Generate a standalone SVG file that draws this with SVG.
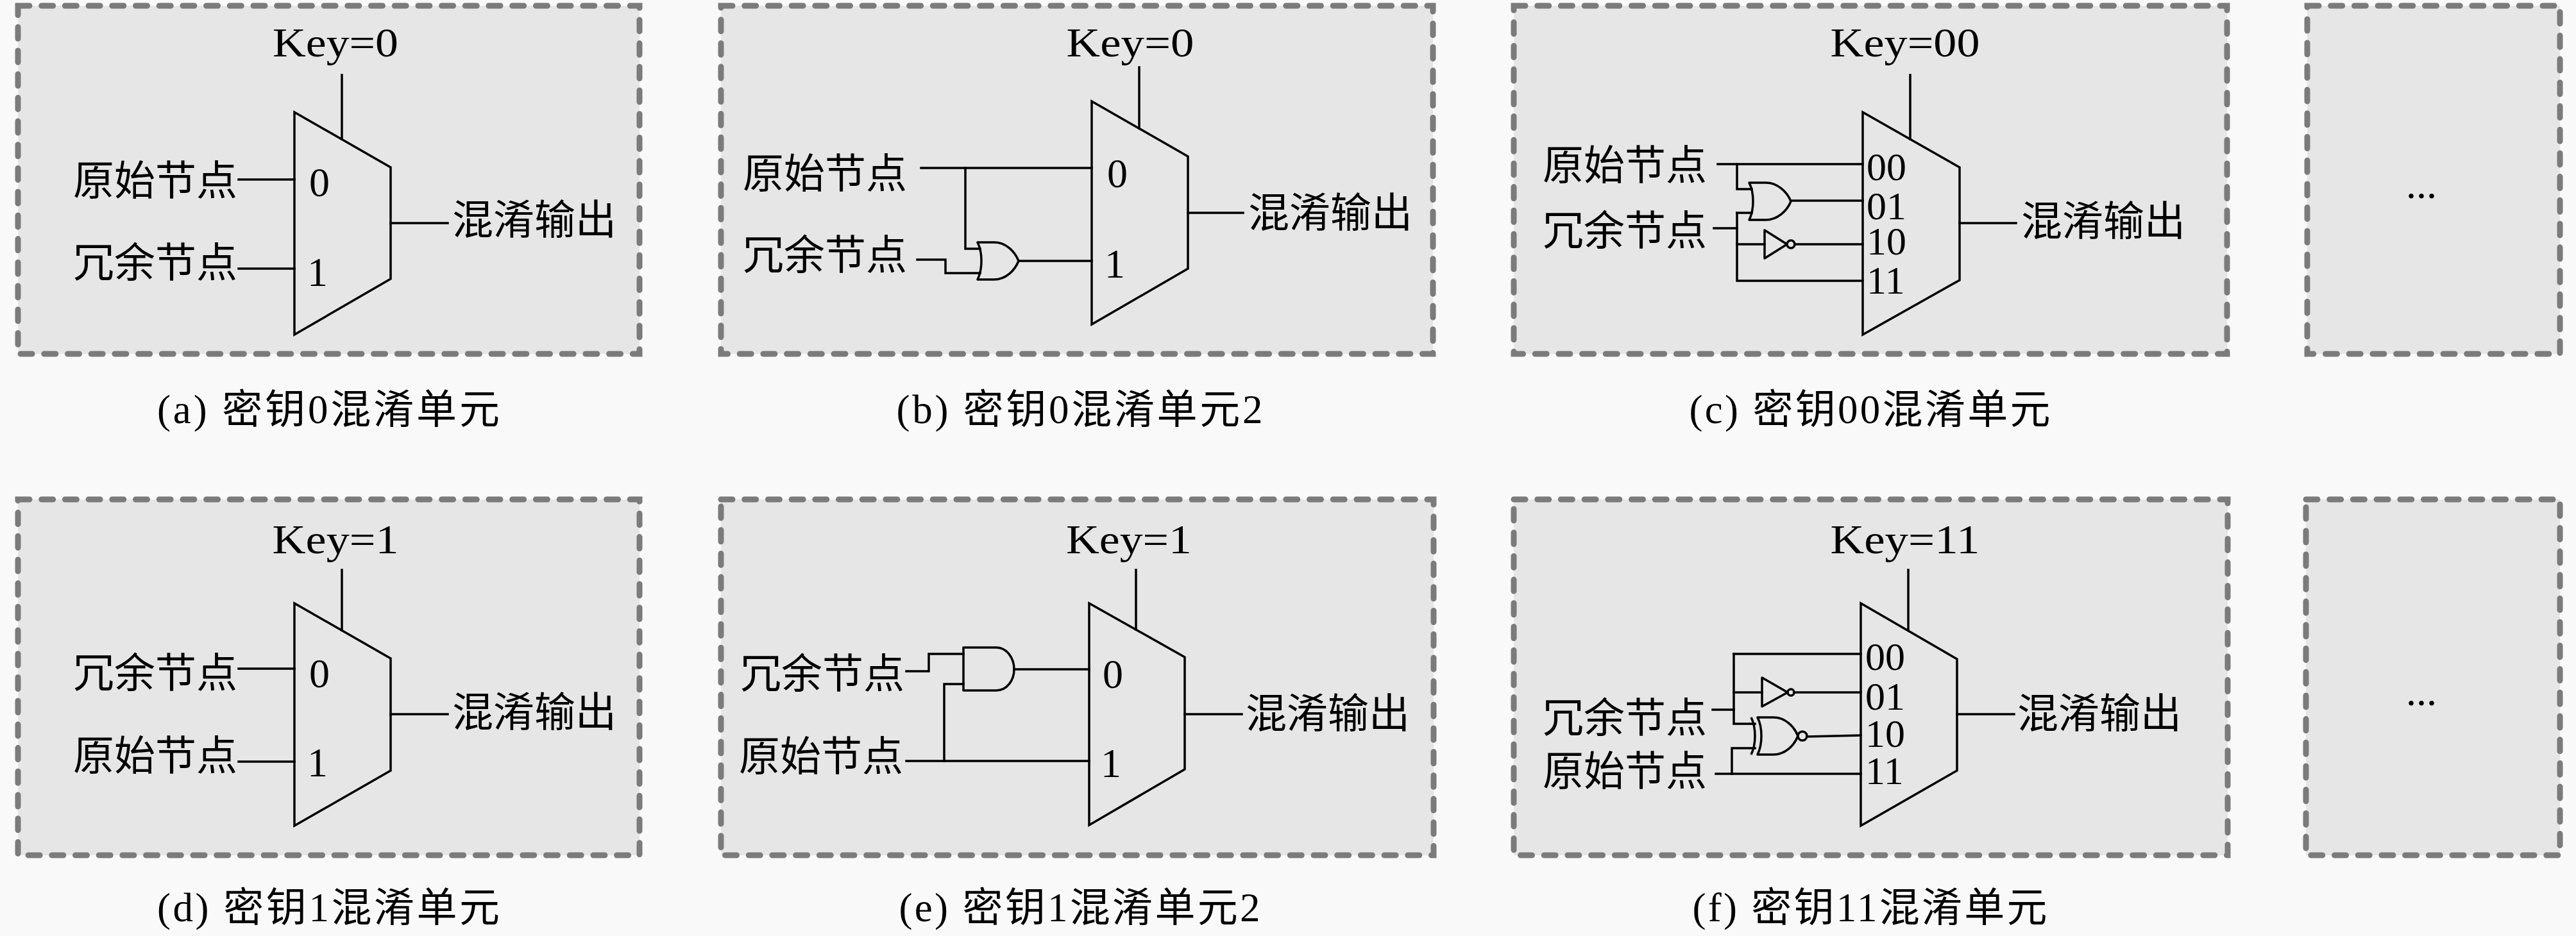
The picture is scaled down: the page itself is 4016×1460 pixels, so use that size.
<svg xmlns="http://www.w3.org/2000/svg" width="4016" height="1460" viewBox="0 0 4016 1460">
<style>
.bg{fill:#f9f9f9}
.box{fill:#e6e6e6;stroke:#7b7b7b;stroke-width:9;stroke-dasharray:18 18.7;stroke-linecap:round}
.mux{fill:none;stroke:#000;stroke-width:3.5;stroke-linejoin:miter}
.gate{fill:none;stroke:#000;stroke-width:3.5;stroke-linejoin:round}
.wire{fill:none;stroke:#000;stroke-width:3.5;stroke-linecap:square}
.lat{font-family:"Liberation Serif",serif;font-size:64px;fill:#000}
.sel{font-family:"Liberation Serif",serif;font-size:62px;fill:#000}
.cjk{font-family:"Noto Sans CJK SC","Noto Sans CJK JP",sans-serif;font-size:64px;fill:#000}
.cap{font-family:"Liberation Serif","Noto Sans CJK SC",serif;font-size:63px;fill:#000;text-anchor:middle}
.mid{text-anchor:middle}
.end{text-anchor:end}
</style>
<rect class="bg" x="0" y="0" width="4016" height="1460"/>

<g id="panel-a">
<rect class="box" x="28" y="9" width="969" height="543"/>
<text class="cap" x="512" y="660" textLength="534" lengthAdjust="spacing">(a) 密钥0混淆单元</text>
</g>
<g id="panel-b">
<rect class="box" x="1124" y="9" width="1110" height="543"/>
<text class="cap" x="1683" y="660" textLength="571" lengthAdjust="spacing">(b) 密钥0混淆单元2</text>
</g>
<g id="panel-c">
<rect class="box" x="2360" y="9" width="1112" height="543"/>
<text class="cap" x="2915" y="660" textLength="563" lengthAdjust="spacing">(c) 密钥00混淆单元</text>
</g>
<g id="panel-top-more">
<rect class="box" x="3597" y="9" width="394" height="543"/>
<text class="lat mid" x="3775" y="309">...</text>
</g>
<g id="panel-d">
<rect class="box" x="28" y="779" width="969" height="555"/>
<text class="cap" x="512" y="1437" textLength="534" lengthAdjust="spacing">(d) 密钥1混淆单元</text>
</g>
<g id="panel-e">
<rect class="box" x="1124" y="779" width="1111" height="555"/>
<text class="cap" x="1683" y="1437" textLength="563" lengthAdjust="spacing">(e) 密钥1混淆单元2</text>
</g>
<g id="panel-f">
<rect class="box" x="2360" y="779" width="1113" height="555"/>
<text class="cap" x="2915" y="1437" textLength="553" lengthAdjust="spacing">(f) 密钥11混淆单元</text>
</g>
<g id="panel-bottom-more">
<rect class="box" x="3595" y="779" width="396" height="555"/>
<text class="lat mid" x="3775" y="1100">...</text>
</g>

<!-- panel a -->
<g id="mux-a">
<polygon class="mux" points="459,175 609,261 609,435 459,522"/>
<text class="lat mid" x="498" y="306">0</text>
<text class="lat mid" x="495" y="446">1</text>
</g>
<g id="labels-a">
<text class="lat mid" x="523" y="88" textLength="196" lengthAdjust="spacingAndGlyphs">Key=0</text>
<text class="cjk end" x="370" y="304">原始节点</text>
<text class="cjk end" x="370" y="432">冗余节点</text>
<text class="cjk" x="705" y="365">混淆输出</text>
</g>

<!-- panel b -->
<g id="mux-b">
<polygon class="mux" points="1702,158 1852,244 1852,419 1702,506"/>
<text class="lat mid" x="1742" y="292">0</text>
<text class="lat mid" x="1738" y="433">1</text>
</g>
<g id="or-b">
<path class="gate" d="M1524,378 H1550 C1568,378 1582,392 1588,407 C1582,422 1568,436 1550,436 H1524 C1532,420 1532,394 1524,378 Z"/>
</g>
<g id="labels-b">
<text class="lat mid" x="1762" y="88" textLength="199" lengthAdjust="spacingAndGlyphs">Key=0</text>
<text class="cjk end" x="1414" y="293">原始节点</text>
<text class="cjk end" x="1414" y="420">冗余节点</text>
<text class="cjk" x="1946" y="354">混淆输出</text>
</g>

<!-- panel c -->
<g id="mux-c">
<polygon class="mux" points="2904,175 3055,261 3055,437 2904,522"/>
<text class="sel" x="2910" y="281">00</text>
<text class="sel" x="2910" y="342">01</text>
<text class="sel" x="2910" y="397">10</text>
<text class="sel" x="2910" y="458">11</text>
</g>
<g id="or-c">
<path class="gate" d="M2727,285 H2753 C2771,285 2786,299 2792,314 C2786,329 2771,343 2753,343 H2727 C2735,327 2735,301 2727,285 Z"/>
</g>
<g id="not-c">
<polygon class="gate" points="2751,359 2751,403 2786,381"/>
<circle class="gate" cx="2792" cy="381" r="6"/>
</g>
<g id="labels-c">
<text class="lat mid" x="2970" y="88" textLength="233" lengthAdjust="spacingAndGlyphs">Key=00</text>
<text class="cjk end" x="2661" y="280">原始节点</text>
<text class="cjk end" x="2661" y="382">冗余节点</text>
<text class="cjk" x="3151" y="367">混淆输出</text>
</g>

<!-- panel d -->
<g id="mux-d">
<polygon class="mux" points="459,941 609,1027 609,1202 459,1288"/>
<text class="lat mid" x="498" y="1072">0</text>
<text class="lat mid" x="495" y="1211">1</text>
</g>
<g id="labels-d">
<text class="lat mid" x="523" y="863" textLength="197" lengthAdjust="spacingAndGlyphs">Key=1</text>
<text class="cjk end" x="370" y="1072">冗余节点</text>
<text class="cjk end" x="370" y="1201">原始节点</text>
<text class="cjk" x="705" y="1133">混淆输出</text>
</g>

<!-- panel e -->
<g id="mux-e">
<polygon class="mux" points="1698,941 1847,1025 1847,1200 1698,1287"/>
<text class="lat mid" x="1735" y="1073">0</text>
<text class="lat mid" x="1732" y="1212">1</text>
</g>
<g id="and-e">
<path class="gate" d="M1502,1010 H1553 C1570,1010 1581,1027 1581,1044 C1581,1061 1570,1077 1553,1077 H1502 Z"/>
</g>
<g id="labels-e">
<text class="lat mid" x="1760" y="863" textLength="196" lengthAdjust="spacingAndGlyphs">Key=1</text>
<text class="cjk end" x="1410" y="1073">冗余节点</text>
<text class="cjk end" x="1408" y="1202">原始节点</text>
<text class="cjk" x="1942" y="1135">混淆输出</text>
</g>

<!-- panel f -->
<g id="mux-f">
<polygon class="mux" points="2901,941 3051,1028 3051,1202 2901,1288"/>
<text class="sel" x="2908" y="1045">00</text>
<text class="sel" x="2908" y="1107">01</text>
<text class="sel" x="2908" y="1165">10</text>
<text class="sel" x="2908" y="1223">11</text>
</g>
<g id="not-f">
<polygon class="gate" points="2747,1057 2747,1102 2787,1080"/>
<circle class="gate" cx="2792" cy="1080" r="5"/>
</g>
<g id="xnor-f">
<path class="gate" d="M2740,1119 H2765 C2783,1119 2797,1133 2803,1148 C2797,1163 2783,1177 2765,1177 H2740 C2748,1161 2748,1135 2740,1119 Z"/>
<path class="gate" d="M2730,1119 C2738,1135 2738,1161 2730,1177"/>
<circle class="gate" cx="2810" cy="1148" r="7"/>
</g>
<g id="labels-f">
<text class="lat mid" x="2970" y="863" textLength="233" lengthAdjust="spacingAndGlyphs">Key=11</text>
<text class="cjk end" x="2661" y="1142">冗余节点</text>
<text class="cjk end" x="2661" y="1225">原始节点</text>
<text class="cjk" x="3145" y="1135">混淆输出</text>
</g>

<g id="connectors">
<!-- a -->
<path class="wire" d="M372,280 H459"/>
<path class="wire" d="M372,419 H459"/>
<path class="wire" d="M609,348 H698"/>
<path class="wire" d="M533,117 V217"/>
<!-- b -->
<path class="wire" d="M1436,262 H1702"/>
<path class="wire" d="M1505,262 V388 H1528"/>
<path class="wire" d="M1430,405 H1474 V426 H1528"/>
<path class="wire" d="M1588,407 H1702"/>
<path class="wire" d="M1852,332 H1938"/>
<path class="wire" d="M1776,105 V200"/>
<!-- c -->
<path class="wire" d="M2678,256 H2904"/>
<path class="wire" d="M2708,256 V295 H2731"/>
<path class="wire" d="M2672,356 H2708"/>
<path class="wire" d="M2708,332 V438 H2904"/>
<path class="wire" d="M2708,332 H2731"/>
<path class="wire" d="M2708,381 H2751"/>
<path class="wire" d="M2792,313 H2904"/>
<path class="wire" d="M2798,381 H2904"/>
<path class="wire" d="M3055,348 H3143"/>
<path class="wire" d="M2978,117 V217"/>
<!-- d -->
<path class="wire" d="M372,1043 H459"/>
<path class="wire" d="M372,1188 H459"/>
<path class="wire" d="M609,1114 H698"/>
<path class="wire" d="M533,889 V983"/>
<!-- e -->
<path class="wire" d="M1413,1047 H1448 V1020 H1502"/>
<path class="wire" d="M1413,1187 H1698"/>
<path class="wire" d="M1472,1187 V1067 H1502"/>
<path class="wire" d="M1581,1044 H1698"/>
<path class="wire" d="M1847,1114 H1936"/>
<path class="wire" d="M1771,889 V982"/>
<!-- f -->
<path class="wire" d="M2703,1020 H2901"/>
<path class="wire" d="M2703,1020 V1129 H2736"/>
<path class="wire" d="M2670,1107 H2703"/>
<path class="wire" d="M2703,1080 H2747"/>
<path class="wire" d="M2675,1207 H2901"/>
<path class="wire" d="M2700,1207 V1167 H2736"/>
<path class="wire" d="M2797,1080 H2901"/>
<path class="wire" d="M2817,1149 L2901,1147"/>
<path class="wire" d="M3051,1114 H3140"/>
<path class="wire" d="M2975,889 V983"/>
</g>
</svg>
